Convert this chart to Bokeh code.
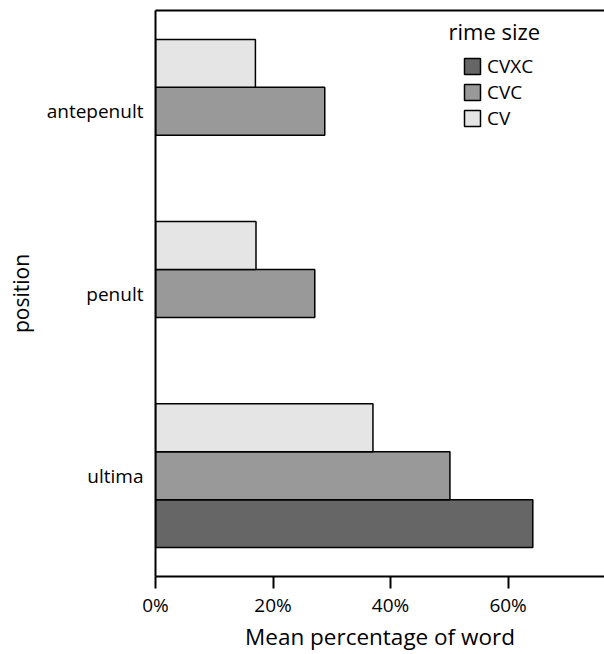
from bokeh.plotting import figure
from bokeh.models import (ColumnDataSource, FactorRange, Range1d, FixedTicker,
                          NumeralTickFormatter, LinearAxis, Label)
from bokeh.transform import dodge
from bokeh.embed import file_html
from bokeh.resources import INLINE

# ---- data ----
positions = ["antepenult", "penult", "ultima"]
rime_sizes = ["CVXC", "CVC", "CV"]
cv_values = [0.170, 0.171, 0.370]
cvc_values = [0.288, 0.271, 0.501]
cvxc_values = [None, None, 0.642]
x_ticks = [0, 0.2, 0.4, 0.6]
colors = {"CVXC": "#666666", "CVC": "#999999", "CV": "#e5e5e5"}

FONT = "Open Sans"
BAR_H = 0.263

p = figure(width=604, height=654, output_backend="svg", toolbar_location=None,
           y_range=FactorRange(factors=positions[::-1], range_padding=0.053,
                               range_padding_units="absolute"),
           x_range=Range1d(0, 0.764),
           min_border_left=155, min_border_top=10, min_border_bottom=78,
           min_border_right=0)
p.outline_line_color = None
p.xgrid.grid_line_color = None
p.ygrid.grid_line_color = None
p.background_fill_color = "white"

series = [("CVXC", cvxc_values, -BAR_H), ("CVC", cvc_values, 0.0), ("CV", cv_values, BAR_H)]
for name, vals, off in series:
    ys = [pos for pos, v in zip(positions, vals) if v is not None]
    xs = [v for v in vals if v is not None]
    src = ColumnDataSource(dict(position=ys, value=xs))
    p.hbar(y=dodge("position", off, range=p.y_range), left=0, right="value",
           height=BAR_H, source=src, fill_color=colors[name],
           line_color="black", line_width=1.5, legend_label=name)

# x axis
xa = p.xaxis[0]
xa.ticker = FixedTicker(ticks=x_ticks)
xa.formatter = NumeralTickFormatter(format="0%")
xa.major_tick_out = 12
xa.major_tick_in = 0
xa.minor_tick_line_color = None
xa.axis_line_width = 2
xa.major_tick_line_width = 2
xa.major_label_standoff = 3
xa.major_label_text_font = FONT
xa.major_label_text_font_size = "19px"
xa.major_label_text_color = "black"
xa.axis_label = "Mean percentage of word"
xa.axis_label_text_font = FONT
xa.axis_label_text_font_size = "22.5px"
xa.axis_label_text_font_style = "normal"
xa.axis_label_text_color = "black"
xa.axis_label_standoff = 0

# y axis
ya = p.yaxis[0]
ya.major_tick_out = 0
ya.major_tick_in = 0
ya.major_tick_line_color = None
ya.minor_tick_line_color = None
ya.axis_line_width = 2
ya.major_label_standoff = 12
ya.major_label_text_font = FONT
ya.major_label_text_font_size = "19px"
ya.major_label_text_color = "black"
ya.axis_label = "position"
ya.axis_label_text_font = FONT
ya.axis_label_text_font_size = "21px"
ya.axis_label_text_font_style = "normal"
ya.axis_label_text_color = "black"
ya.axis_label_standoff = 9

# top border line
top = LinearAxis(ticker=FixedTicker(ticks=[]), major_label_text_font_size="0px",
                 major_tick_line_color=None, minor_tick_line_color=None,
                 axis_line_width=2, major_tick_out=0, major_tick_in=0,
                 major_label_standoff=0)
p.add_layout(top, "above")

# legend
lg = p.legend[0]
lg.location = (307, 445)
lg.padding = 0
lg.margin = 0
lg.border_line_color = None
lg.background_fill_alpha = 0
lg.glyph_width = 20
lg.glyph_height = 20
lg.label_height = 20
lg.label_standoff = 5
lg.spacing = 0
lg.label_text_font = FONT
lg.label_text_font_size = "19px"
lg.label_text_line_height = 1.0
lg.label_text_color = "black"

p.add_layout(Label(x=293, y=546, x_units="screen", y_units="screen", text="rime size",
                   text_font=FONT, text_font_size="22px", text_baseline="middle",
                   text_align="left", text_color="black"))

open("out.html", "w").write(file_html(p, INLINE))
